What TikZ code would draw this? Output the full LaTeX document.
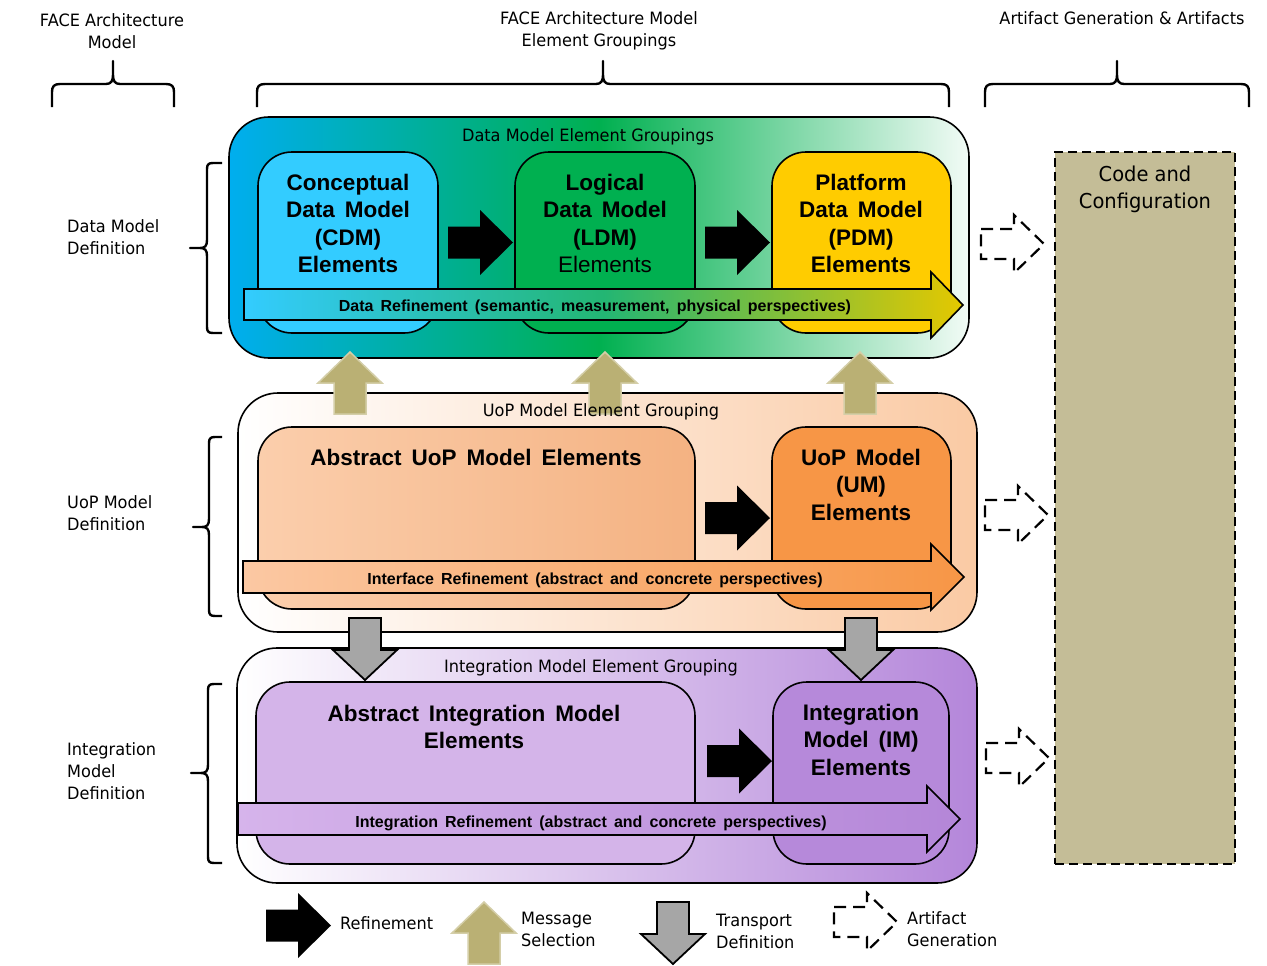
\documentclass[tikz,border=0pt]{standalone}
\usepackage{fontspec}
\setmainfont{DejaVu Sans}[FakeStretch=0.95]
\newfontfamily\bxfont{Liberation Sans}
\newfontfamily\rffont{Liberation Sans}[WordSpace=1.6]
\usetikzlibrary{calc}
\definecolor{dmBlue}{RGB}{0,174,239}
\definecolor{dmGreen}{RGB}{0,176,80}
\definecolor{dmWhite}{RGB}{242,251,246}
\definecolor{cdmC}{RGB}{51,204,255}
\definecolor{ldmC}{RGB}{0,176,80}
\definecolor{pdmC}{RGB}{255,204,0}
\definecolor{drG}{RGB}{35,182,115}
\definecolor{drY}{RGB}{228,200,0}
\definecolor{uopR}{RGB}{250,202,164}
\definecolor{auL}{RGB}{251,206,172}
\definecolor{auR}{RGB}{244,178,130}
\definecolor{umC}{RGB}{247,150,70}
\definecolor{irL}{RGB}{251,200,163}
\definecolor{intR}{RGB}{180,134,218}
\definecolor{aiC}{RGB}{212,180,233}
\definecolor{imC}{RGB}{182,137,218}
\definecolor{inL}{RGB}{214,180,235}
\definecolor{inR}{RGB}{180,134,216}
\definecolor{tanC}{RGB}{186,176,116}
\definecolor{tanE}{RGB}{212,206,168}
\definecolor{grayC}{RGB}{166,166,166}
\definecolor{codeC}{RGB}{196,189,151}
\newcommand\hbr[3]{%
 \draw[brace] (#1,107) -- (#1,92) .. controls (#1,86.5) and ({#1+2},84) .. ({#1+8},84) -- ({#2-7},84) .. controls ({#2-2},84) and (#2,81) .. (#2,75) -- (#2,61) -- (#2,75) .. controls (#2,81) and ({#2+2},84) .. ({#2+7},84) -- ({#3-8},84) .. controls ({#3-2},84) and (#3,86.5) .. (#3,92) -- (#3,107);}
\newcommand\vbr[5]{%
 \draw[brace] (222,#1) -- ({#4+6},#1) .. controls ({#4+1.5},#1) and (#4,{#1+1.5}) .. (#4,{#1+6}) -- (#4,{#2-8}) .. controls (#4,{#2-2}) and ({#4-2},#2) .. ({#4-7},#2) -- (#5,#2) -- ({#4-7},#2) .. controls ({#4-2},#2) and (#4,{#2+2}) .. (#4,{#2+8}) -- (#4,{#3-6}) .. controls (#4,{#3-1.5}) and ({#4+1.5},#3) .. ({#4+6},#3) -- (222,#3);}
\tikzset{
 pics/blkarrow/.style={code={\fill[black] (0,-16) -- (32,-16) -- (32,-32.5) -- (65,0) -- (32,32.5) -- (32,16) -- (0,16) -- cycle;}},
 pics/tanarrow/.style={code={\path[tanA] (0,0) -- (32,31) -- (16,31) -- (16,62) -- (-16,62) -- (-16,31) -- (-32,31) -- cycle;}},
 pics/grayarrow/.style={code={\path[grayA] (-16,0) -- (16,0) -- (16,32) -- (32,32) -- (0,62) -- (-32,32) -- (-16,32) -- cycle;}},
 pics/artarrow/.style={code={\draw[artA] (0,-15) -- (33,-15) -- (33,-29) -- (63,0) -- (33,29) -- (33,15) -- (0,15) -- cycle;}},
}
\begin{document}
\begin{tikzpicture}[x=1pt,y=-1pt,
  group/.style={draw=black,line width=1.6pt,rounded corners=40pt,inner sep=0pt},
  ibox/.style={draw=black,line width=1.6pt,rounded corners=34pt,inner sep=0pt},
  lbl/.style={font=\fontsize{17}{22}\selectfont,inner sep=0pt,align=center},
  lbll/.style={lbl,align=left,anchor=west},
  btxt/.style={font=\bxfont\fontsize{22.5}{27.5}\selectfont,inner sep=0pt,align=center},
  rtxt/.style={font=\rffont\bfseries\fontsize{16}{18}\selectfont,inner sep=0pt,anchor=base},
  refA/.style={draw=black,line width=1.6pt,line join=miter},
  tanA/.style={fill=tanC,draw=tanE,line width=1.5pt},
  grayA/.style={fill=grayC,draw=black,line width=1.8pt},
  artA/.style={draw=black,line width=2.2pt,dash pattern=on 12pt off 7pt},
  brace/.style={draw=black,line width=2.4pt,line join=round},
  codebox/.style={draw=black,line width=2pt,dash pattern=on 9pt off 5pt,fill=codeC,inner sep=0pt}]
\useasboundingbox (0,0) rectangle (1267,966);

% top labels and braces
\node[lbl] (hA) at (112,31) {FACE Architecture\\Model};
\node[lbl] (hB) at (599,31) {FACE Architecture Model\\Element Groupings};
\node[lbl,anchor=base] (hC) at (1122,25) {Artifact Generation \& Artifacts};
\hbr{52}{113}{174}
\hbr{257}{603}{949}
\hbr{985}{1117}{1249}

% left labels and braces
\node[lbll] (lA) at (67,237) {Data Model\\Definition};
\node[lbll] (lB) at (67,513) {UoP Model\\Definition};
\node[lbll] (lC) at (67,771.5) {Integration\\Model\\Definition};
\vbr{163}{248}{333}{207}{190}
\vbr{437}{527}{616}{209}{193}
\vbr{684}{773}{863}{208}{191}

% groups
\node[group,left color=dmBlue,right color=dmWhite,middle color=dmGreen,minimum width=740pt,minimum height=241pt] (dmg) at (599,237.5) {};
\node[group,left color=white,right color=uopR,minimum width=739pt,minimum height=239pt] (uopg) at (607.5,512.5) {};
\node[group,left color=white,right color=intR,minimum width=740pt,minimum height=235pt] (intg) at (607,765.5) {};

% inner boxes
\node[ibox,fill=cdmC,minimum width=180pt,minimum height=181pt] (cdm) at (348,242.5) {};
\node[ibox,fill=ldmC,minimum width=180pt,minimum height=181pt] (ldm) at (605,242.5) {};
\node[ibox,fill=pdmC,minimum width=179pt,minimum height=181pt] (pdm) at (861.5,242.5) {};
\node[ibox,left color=auL,right color=auR,minimum width=437pt,minimum height=182pt] (auop) at (476.5,518) {};
\node[ibox,fill=umC,minimum width=179pt,minimum height=182pt] (um) at (861.5,518) {};
\node[ibox,fill=aiC,minimum width=439pt,minimum height=182pt] (aint) at (475.5,773) {};
\node[ibox,fill=imC,minimum width=176pt,minimum height=182pt] (im) at (861,773) {};

% refinement arrows
\path[refA,left color=cdmC,right color=drY,middle color=drG] (244,289) -- (931,289) -- (931,272) -- (963,305) -- (931,338) -- (931,320) -- (244,320) -- cycle;
\path[refA,left color=irL,right color=umC] (243,561) -- (931,561) -- (931,544) -- (964,577) -- (931,610) -- (931,593) -- (243,593) -- cycle;
\path[refA,left color=inL,right color=inR] (238,803) -- (927,803) -- (927,786) -- (960,819) -- (927,852) -- (927,835) -- (238,835) -- cycle;

% black refinement arrows
\pic (b1) at (448,242.5) {blkarrow};
\pic (b2) at (705,242.5) {blkarrow};
\pic (b3) at (705,518) {blkarrow};
\pic (b4) at (707,761) {blkarrow};

% message selection arrows
\pic (m1) at (350,352) {tanarrow};
\pic (m2) at (605,352) {tanarrow};
\pic (m3) at (860,352) {tanarrow};

% transport arrows
\pic (g1) at (365,618) {grayarrow};
\pic (g2) at (861,618) {grayarrow};

% group titles
\node[lbl,anchor=base] (tA) at (588,141) {Data Model Element Groupings};
\node[lbl,anchor=base] (tB) at (601,416) {UoP Model Element Grouping};
\node[lbl,anchor=base] (tC) at (591,672) {Integration Model Element Grouping};

% box texts
\node[btxt,font=\bxfont\bfseries\fontsize{22.5}{27.5}\selectfont] (xcdm) at (348,223.5) {Conceptual\\Data Model\\(CDM)\\Elements};
\node[btxt] (xldm) at (605,223.5) {\textbf{Logical}\\\textbf{Data Model}\\\textbf{(LDM)}\\Elements};
\node[btxt,font=\bxfont\bfseries\fontsize{22.5}{27.5}\selectfont] (xpdm) at (861,223.5) {Platform\\Data Model\\(PDM)\\Elements};
\node[btxt,font=\bxfont\bfseries\fontsize{22.5}{27.5}\selectfont,anchor=base] (xau) at (476,465) {Abstract UoP Model Elements};
\node[btxt,font=\bxfont\bfseries\fontsize{22.5}{27.5}\selectfont] (xum) at (861,484.5) {UoP Model\\(UM)\\Elements};
\node[btxt,font=\bxfont\bfseries\fontsize{22.5}{27.5}\selectfont] (xai) at (474,727) {Abstract Integration Model\\Elements};
\node[btxt,font=\bxfont\bfseries\fontsize{22.5}{27.5}\selectfont] (xim) at (861,739.5) {Integration\\Model (IM)\\Elements};

% refinement labels
\node[rtxt] (rA) at (595,311.5) {Data Refinement (semantic, measurement, physical perspectives)};
\node[rtxt] (rB) at (595,584) {Interface Refinement (abstract and concrete perspectives)};
\node[rtxt] (rC) at (591,827) {Integration Refinement (abstract and concrete perspectives)};

% artifacts
\node[codebox,minimum width=180pt,minimum height=712pt] (code) at (1145,508) {};
\node[lbl,font=\fontsize{20.5}{27}\selectfont] (xcode) at (1145,189) {Code and\\Configuration};
\pic (a1) at (981,244) {artarrow};
\pic (a2) at (985,515) {artarrow};
\pic (a3) at (986,758) {artarrow};

% legend
\pic (lg1) at (266,925.5) {blkarrow};
\node[lbl,anchor=west] (lgt1) at (340,923) {Refinement};
\pic (lg2) at (484,902) {tanarrow};
\node[lbll] (lgt2) at (521,929.5) {Message\\Selection};
\pic (lg3) at (673,902) {grayarrow};
\node[lbll] (lgt3) at (716,931) {Transport\\Definition};
\pic (lg4) at (834,922) {artarrow};
\node[lbll] (lgt4) at (907,929) {Artifact\\Generation};
\end{tikzpicture}
\end{document}
